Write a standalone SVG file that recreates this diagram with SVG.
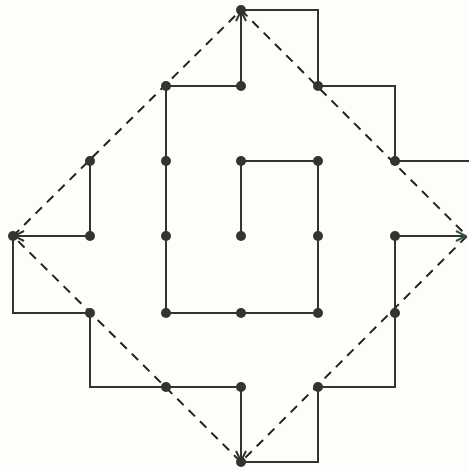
<svg xmlns="http://www.w3.org/2000/svg" width="469" height="471" viewBox="0 0 469 471">
<style>
.ln{fill:none;stroke:#333;stroke-width:2;stroke-linejoin:miter}
.ds{fill:none;stroke:#222;stroke-width:2;stroke-dasharray:9 7}
.dot{fill:#333}
</style>
<defs>
<marker id="ah" viewBox="0 0 12 12" refX="11" refY="6" markerWidth="12" markerHeight="12" markerUnits="userSpaceOnUse" orient="auto">
<path d="M1,1 L11,6 L1,11" fill="none" stroke="#333" stroke-width="2"/>
</marker>
<marker id="ahg" viewBox="0 0 12 12" refX="11" refY="6" markerWidth="12" markerHeight="12" markerUnits="userSpaceOnUse" orient="auto">
<path d="M1,1 L11,6 L1,11" fill="none" stroke="#2d5a3c" stroke-width="2"/>
</marker>
</defs>
<rect width="469" height="471" fill="#fdfdf9"/>
<g id="connectors">
<path class="ds" d="M241,10 L467,236 L241,462 L13,236 Z"/>
<path class="ln" d="M241,236 V161 H318 V313 H166 V86 H241"/>
<path class="ln" d="M241,86 V11" marker-end="url(#ah)"/>
<path class="ln" d="M241,10 H318 V86 H395 V161 H469"/>
<path class="ln" d="M90,161 V236 H14" marker-end="url(#ah)"/>
<path class="ln" d="M13,236 V313 H90 V387 H241 V461" marker-end="url(#ah)"/>
<path class="ln" d="M241,462 H318 V387 H395 V236 H466" marker-end="url(#ahg)"/>
</g>
<g id="nodes">
<g id="n1"><circle class="dot" cx="241" cy="10" r="5"/></g>
<g id="n2"><circle class="dot" cx="166" cy="86" r="5"/></g>
<g id="n3"><circle class="dot" cx="241" cy="86" r="5"/></g>
<g id="n4"><circle class="dot" cx="318" cy="86" r="5"/></g>
<g id="n5"><circle class="dot" cx="90" cy="161" r="5"/></g>
<g id="n6"><circle class="dot" cx="166" cy="161" r="5"/></g>
<g id="n7"><circle class="dot" cx="241" cy="161" r="5"/></g>
<g id="n8"><circle class="dot" cx="318" cy="161" r="5"/></g>
<g id="n9"><circle class="dot" cx="395" cy="161" r="5"/></g>
<g id="n10"><circle class="dot" cx="13" cy="236" r="5"/></g>
<g id="n11"><circle class="dot" cx="90" cy="236" r="5"/></g>
<g id="n12"><circle class="dot" cx="166" cy="236" r="5"/></g>
<g id="n13"><circle class="dot" cx="241" cy="236" r="5"/></g>
<g id="n14"><circle class="dot" cx="318" cy="236" r="5"/></g>
<g id="n15"><circle class="dot" cx="395" cy="236" r="5"/></g>
<g id="n16"><circle class="dot" cx="90" cy="313" r="5"/></g>
<g id="n17"><circle class="dot" cx="166" cy="313" r="5"/></g>
<g id="n18"><circle class="dot" cx="241" cy="313" r="5"/></g>
<g id="n19"><circle class="dot" cx="318" cy="313" r="5"/></g>
<g id="n20"><circle class="dot" cx="395" cy="313" r="5"/></g>
<g id="n21"><circle class="dot" cx="166" cy="387" r="5"/></g>
<g id="n22"><circle class="dot" cx="241" cy="387" r="5"/></g>
<g id="n23"><circle class="dot" cx="318" cy="387" r="5"/></g>
<g id="n24"><circle class="dot" cx="241" cy="462" r="5"/></g>
</g>
</svg>
